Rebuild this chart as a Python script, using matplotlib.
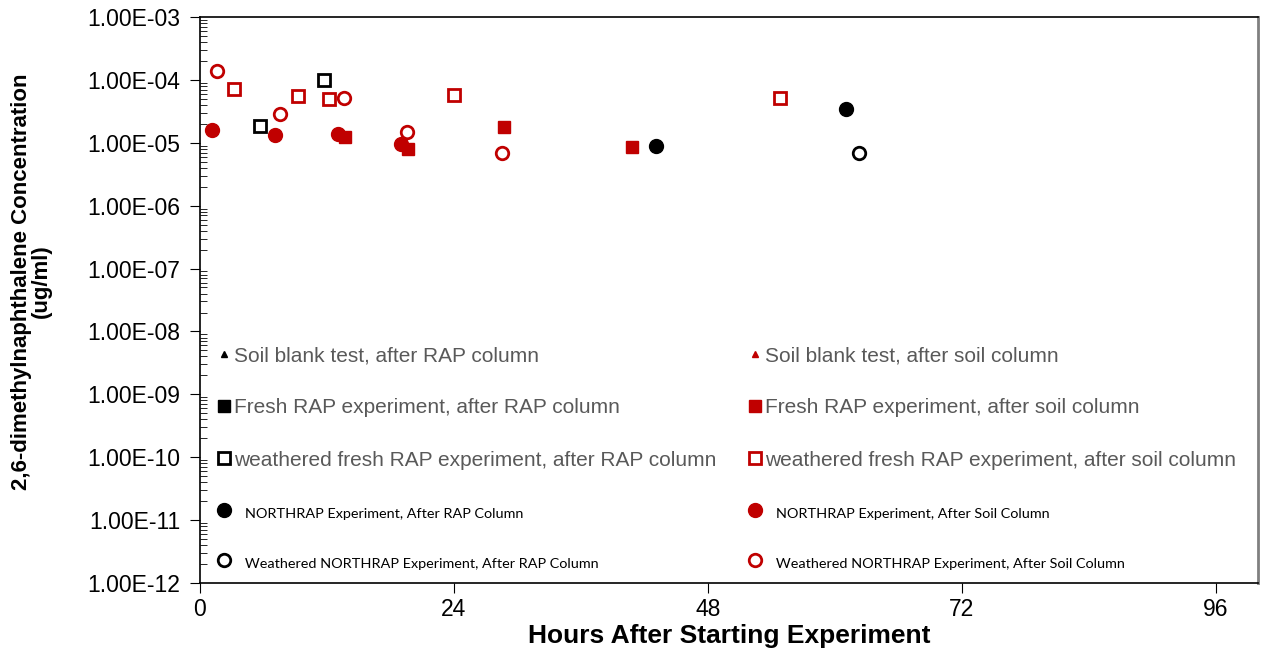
import matplotlib
matplotlib.use("Agg")
import matplotlib.pyplot as plt
from matplotlib.ticker import FixedLocator, LogLocator, NullFormatter

plt.rcParams["font.family"] = ["Liberation Sans", "DejaVu Sans"]

RED = "#c00000"

# hours after start, concentration (ug/ml)
blank_rap_x, blank_rap_y = [], []
blank_soil_x, blank_soil_y = [], []
fresh_rap_x, fresh_rap_y = [], []
fresh_soil_x = [13.7, 19.7, 28.7, 40.8]
fresh_soil_y = [1.22e-5, 7.9e-6, 1.76e-5, 8.6e-6]
wfresh_rap_x = [5.7, 11.7]
wfresh_rap_y = [1.83e-5, 1.0e-4]
wfresh_soil_x = [3.2, 9.3, 12.2, 24.0, 54.8]
wfresh_soil_y = [7.2e-5, 5.6e-5, 5.0e-5, 5.7e-5, 5.2e-5]
north_rap_x = [43.1, 61.1]
north_rap_y = [8.9e-6, 3.4e-5]
north_soil_x = [1.1, 7.1, 13.0, 19.0]
north_soil_y = [1.6e-5, 1.33e-5, 1.38e-5, 9.5e-6]
wnorth_rap_x = [62.3]
wnorth_rap_y = [7.0e-6]
wnorth_soil_x = [1.6, 7.6, 13.6, 19.6, 28.5]
wnorth_soil_y = [1.4e-4, 2.85e-5, 5.1e-5, 1.49e-5, 7.0e-6]

x_ticks = [0, 24, 48, 72, 96]
y_ticks = [10.0 ** e for e in range(-12, -2)]

fig = plt.figure(figsize=(12.63, 6.53), dpi=100)
ax = fig.add_axes([200 / 1263, 70 / 653, 1058 / 1263, 566 / 653])

h = []
h += ax.plot(blank_rap_x, blank_rap_y, ls="none", marker="^", ms=5, color="black")
h += ax.plot(fresh_rap_x, fresh_rap_y, ls="none", marker="s", ms=8, color="black")
h += ax.plot(wfresh_rap_x, wfresh_rap_y, ls="none", marker="s", ms=8, mfc="white",
             mec="black", mew=2)
h += ax.plot(north_rap_x, north_rap_y, ls="none", marker="o", ms=10, color="black")
h += ax.plot(wnorth_rap_x, wnorth_rap_y, ls="none", marker="o", ms=9, mfc="white",
             mec="black", mew=2)
h += ax.plot(blank_soil_x, blank_soil_y, ls="none", marker="^", ms=5, color=RED)
h += ax.plot(fresh_soil_x, fresh_soil_y, ls="none", marker="s", ms=8, color=RED)
h += ax.plot(wfresh_soil_x, wfresh_soil_y, ls="none", marker="s", ms=8, mfc="white",
             mec=RED, mew=2)
h += ax.plot(north_soil_x, north_soil_y, ls="none", marker="o", ms=10, color=RED)
h += ax.plot(wnorth_soil_x, wnorth_soil_y, ls="none", marker="o", ms=9, mfc="white",
             mec=RED, mew=2)

labels = [
    "Soil blank test, after RAP column",
    "Fresh RAP experiment, after RAP column",
    "weathered fresh RAP experiment, after RAP column",
    "   NORTHRAP Experiment, After RAP Column",
    "   Weathered NORTHRAP Experiment, After RAP Column",
    "Soil blank test, after soil column",
    "Fresh RAP experiment, after soil column",
    "weathered fresh RAP experiment, after soil column",
    "   NORTHRAP Experiment, After Soil Column",
    "   Weathered NORTHRAP Experiment, After Soil Column",
]

ax.set_yscale("log")
ax.set_xlim(0, 100)
ax.set_ylim(1e-12, 1e-3)
ax.xaxis.set_major_locator(FixedLocator(x_ticks))
ax.yaxis.set_major_locator(FixedLocator(y_ticks))
ax.yaxis.set_minor_locator(LogLocator(base=10, subs=range(2, 10), numticks=100))
ax.yaxis.set_minor_formatter(NullFormatter())
ax.set_yticklabels(["%.2E" % v for v in y_ticks])
ax.tick_params(axis="both", which="major", direction="out", length=7, labelsize=16.5,
               colors="black")
ax.tick_params(axis="y", which="major", pad=7)
ax.tick_params(axis="y", which="minor", direction="in", length=5)
ax.tick_params(axis="x", which="major", pad=4)

for s in ["left", "bottom", "top"]:
    ax.spines[s].set_linewidth(1.2)
ax.spines["right"].set_color("#808080")
ax.spines["right"].set_linewidth(2)

ax.set_xlabel("Hours After Starting Experiment", fontsize=19, fontweight="bold",
              labelpad=2)
ax.set_ylabel("2,6-dimethylnaphthalene Concentration\n(ug/ml)", fontsize=16,
              fontweight="bold", linespacing=0.95,
              family=["Liberation Sans Narrow", "Liberation Sans"])
ax.yaxis.set_label_coords(-0.140, 0.533)

leg = ax.legend(h, labels, ncol=2, loc="upper left",
                bbox_to_anchor=(14.6 / 1058, (583 - 346) / 566),
                frameon=False, fontsize=15, handlelength=0.95, handletextpad=0.0,
                labelspacing=1.6, columnspacing=1.35, borderpad=0, borderaxespad=0)
for i, t in enumerate(leg.get_texts()):
    if i % 5 >= 3:
        t.set_fontfamily("Lato")
        t.set_fontsize(10.4)
        t.set_color("black")
    else:
        t.set_color("#595959")

fig.savefig("out.png", dpi=100)
